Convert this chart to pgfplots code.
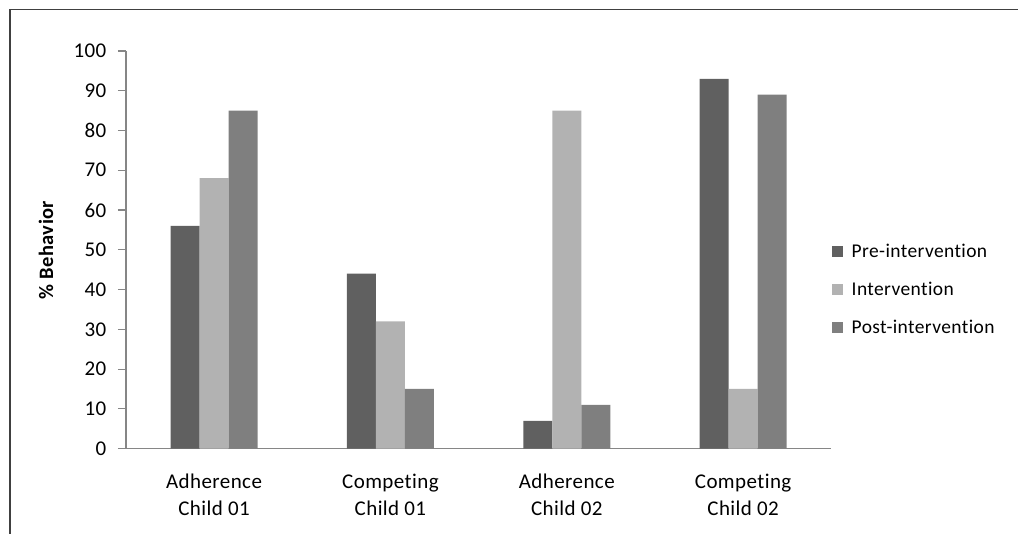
\documentclass[border=0pt]{standalone}
\usepackage{pgfplots}
\pgfplotsset{compat=1.18}
\usepackage{fontspec}
\setmainfont{Carlito}[LetterSpace=2, Ligatures=NoCommon]

\definecolor{preC}{HTML}{606060}
\definecolor{intC}{HTML}{B2B2B2}
\definecolor{postC}{HTML}{7F7F7F}
\definecolor{axC}{HTML}{868686}
\definecolor{frameC}{HTML}{404040}

\begin{document}
\begin{tikzpicture}[x=1pt,y=1pt]
  % page size and chart frame
  \path (0,0) rectangle (1019,534);
  \draw[frameC, line width=1.6pt] (10,0) -- (10,524.5) -- (1019,524.5);

  \begin{axis}[
      at={(126pt,85pt)}, anchor=south west,
      scale only axis,
      width=706pt, height=398pt,
      ybar=0pt, bar width=29pt,
      xmin=-0.5, xmax=3.5,
      ymin=0, ymax=100,
      xtick=data,
      xticklabels={{Adherence\\Child 01},{Competing\\Child 01},{Adherence\\Child 02},{Competing\\Child 02}},
      xticklabel style={align=center, yshift=-14pt},
      ytick={0,10,...,100},
      axis x line*=bottom, axis y line*=left,
      axis line style={axC, line width=1.2pt},
      x axis line style={-}, y axis line style={-},
      major x tick style={draw=none},
      major y tick style={axC, line width=1.2pt},
      tick align=outside, major tick length=8pt,
      yticklabel style={xshift=-8pt},
      /pgf/number format/assume math mode=true,
      tick label style={font=\fontsize{21}{27}\selectfont},
      ylabel={\textbf{\% Behavior}},
      every axis y label/.style={at={(-80pt,0.5)}, rotate=90, anchor=center,
        font=\fontsize{20.5}{24}\selectfont},
      legend style={at={(0.996,0.40)}, anchor=west, draw=none, fill=none,
        font=\fontsize{19.5}{24}\selectfont, row sep=19pt,
        legend cell align=left,
        nodes={inner xsep=9pt}},
      legend image code/.code={\fill[#1] (0pt,-5.5pt) rectangle (11pt,5.5pt);},
    ]
    \addplot[fill=preC, draw=none] coordinates {(0,56) (1,44) (2,7) (3,93)};
    \addplot[fill=intC, draw=none] coordinates {(0,68) (1,32) (2,85) (3,15)};
    \addplot[fill=postC, draw=none] coordinates {(0,85) (1,15) (2,11) (3,89)};
    \legend{Pre-intervention, Intervention, Post-intervention}
  \end{axis}
\end{tikzpicture}
\end{document}
